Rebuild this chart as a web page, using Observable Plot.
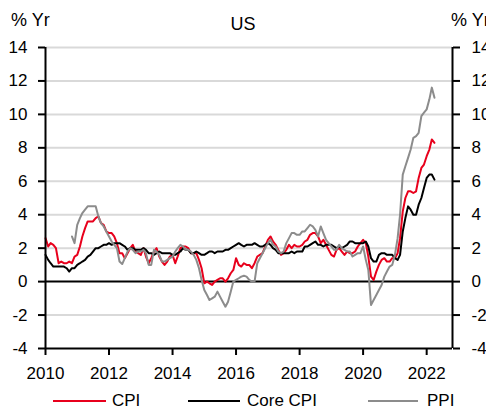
<!DOCTYPE html>
<html><head><meta charset="utf-8">
<script src="https://cdn.jsdelivr.net/npm/d3@7"></script>
<script src="https://cdn.jsdelivr.net/npm/@observablehq/plot@0.6"></script>
<style>
body{margin:0;background:#fff;}
#wrap{position:relative;width:486px;height:410px;overflow:hidden;font-family:"Liberation Sans",Arial,sans-serif;color:#000;background:#fff;}
.lab{position:absolute;font-size:17px;line-height:1;white-space:nowrap;}
.sw{position:absolute;height:0;border-top-style:solid;border-top-width:2px;}
</style></head><body>
<div id="wrap">
  <div id="chart" style="position:absolute;left:0;top:0"></div>
  <div class="lab" style="left:0;width:486px;text-align:center;top:15px;font-size:18px">US</div>
  <div class="lab" style="left:11px;top:11px;font-size:18px">% Yr</div>
  <div class="lab" style="left:451px;top:11px;font-size:18px">% Yr</div>
  <div id="legend"></div>
</div>
<script>
// ---- data (year-on-year %, monthly) ----
const startCPI = [2010, 0];   // Jan 2010
const startPPI = [2010, 10];  // Nov 2010
const cpi = [
 2.6,2.1,2.3,2.2,2.0,1.1,1.2,1.1,1.1,1.2,1.1,1.5,
 1.6,2.1,2.7,3.2,3.6,3.6,3.6,3.8,3.9,3.5,3.4,3.0,
 2.9,2.9,2.7,2.3,1.7,1.7,1.4,1.7,2.0,2.2,1.8,1.7,
 1.6,2.0,1.5,1.1,1.4,1.8,2.0,1.5,1.2,1.0,1.2,1.5,
 1.6,1.1,1.5,2.0,2.1,2.1,2.0,1.7,1.7,1.7,1.3,0.8,
 -0.1,0.0,-0.1,-0.2,0.0,0.1,0.2,0.2,0.0,0.2,0.5,0.7,
 1.4,1.0,0.9,1.1,1.0,1.0,0.8,1.1,1.5,1.6,1.7,2.1,
 2.5,2.7,2.4,2.2,1.9,1.6,1.7,1.9,2.2,2.0,2.2,2.1,
 2.1,2.2,2.4,2.5,2.8,2.9,2.9,2.7,2.3,2.5,2.2,1.9,
 1.6,1.5,1.9,2.0,1.8,1.6,1.8,1.7,1.7,1.8,2.1,2.3,
 2.5,2.3,1.5,0.3,0.1,0.6,1.0,1.3,1.4,1.2,1.2,1.4,
 1.4,1.7,2.6,4.2,5.0,5.4,5.4,5.3,5.4,6.2,6.8,7.0,
 7.5,7.9,8.5,8.3
];
const coreCpi = [
 1.6,1.3,1.1,0.9,0.9,0.9,0.9,0.9,0.8,0.6,0.8,0.8,
 1.0,1.1,1.2,1.3,1.5,1.6,1.8,2.0,2.0,2.1,2.2,2.2,
 2.3,2.2,2.3,2.3,2.3,2.2,2.1,1.9,2.0,2.0,1.9,1.9,
 1.9,2.0,1.9,1.7,1.7,1.6,1.7,1.8,1.7,1.7,1.7,1.7,
 1.6,1.6,1.7,1.8,2.0,1.9,1.9,1.7,1.7,1.8,1.7,1.6,
 1.6,1.7,1.8,1.8,1.7,1.8,1.8,1.8,1.9,1.9,2.0,2.1,
 2.2,2.3,2.2,2.1,2.2,2.2,2.2,2.3,2.2,2.1,2.1,2.2,
 2.3,2.2,2.0,1.9,1.7,1.7,1.7,1.7,1.7,1.8,1.7,1.8,
 1.8,1.8,2.1,2.1,2.2,2.3,2.4,2.2,2.2,2.1,2.2,2.2,
 2.2,2.1,2.0,2.1,2.0,2.1,2.2,2.4,2.4,2.3,2.3,2.3,
 2.3,2.4,2.1,1.4,1.2,1.2,1.6,1.7,1.7,1.6,1.6,1.6,
 1.4,1.3,1.6,3.0,3.8,4.5,4.3,4.0,4.0,4.6,5.0,5.6,
 6.2,6.4,6.4,6.1
];
const ppi = [
 2.7,2.3,
 3.4,3.8,4.1,4.3,4.5,4.5,4.5,4.5,3.9,3.5,3.3,3.0,
 2.7,2.4,2.2,2.0,1.2,1.05,1.4,1.8,2.0,1.9,1.7,1.8,
 1.8,1.9,1.7,1.0,1.0,1.9,1.8,1.6,1.2,1.2,1.3,1.4,
 1.5,1.8,2.0,2.2,2.1,1.9,1.9,1.8,1.6,1.3,0.8,0.1,
 -0.5,-0.8,-1.1,-1.0,-0.9,-0.6,-0.9,-1.2,-1.5,-1.2,-0.6,0.0,
 0.1,0.2,0.3,0.35,0.3,0.1,0.0,0.0,1.1,1.4,1.7,2.0,
 2.3,2.5,2.2,2.1,1.8,1.7,1.8,2.3,2.6,2.9,2.9,2.8,
 2.8,3.0,3.0,3.2,3.4,3.3,3.1,2.7,3.3,2.9,2.5,2.3,
 2.1,1.9,1.9,2.2,2.0,1.9,1.8,1.8,1.5,1.6,1.7,1.7,
 2.1,1.3,0.7,-1.4,-1.1,-0.8,-0.5,-0.2,0.3,0.6,0.9,1.0,
 1.6,2.6,4.0,6.4,6.9,7.4,7.9,8.6,8.7,8.9,9.9,10.1,
 10.3,10.9,11.6,11.0
];
const seriesNames = ["CPI", "Core CPI", "PPI"];
const seriesColors = ["#e8001c", "#000000", "#8c8c8c"];
const yTicks = [-4,-2,0,2,4,6,8,10,12,14];
const gridValues = [-2,2,4,6,8,10,12,14];
const xTickYears = [2010,2012,2014,2016,2018,2020,2022];
const yDomain = [-4, 14];
const xDomainStr = ["2010-01-01", "2022-10-25"];

// ---- build tables ----
function toRows(vals, start, name) {
  return vals.map((v, i) => ({date: new Date(Date.UTC(start[0], start[1] + i, 1)), value: v, series: name}));
}
const rows = [
  ...toRows(cpi, startCPI, seriesNames[0]),
  ...toRows(coreCpi, startCPI, seriesNames[1]),
  ...toRows(ppi, startPPI, seriesNames[2])
];
const xDomain = xDomainStr.map(s => new Date(s + "T00:00:00Z"));
const xTicks = xTickYears.map(y => new Date(Date.UTC(y, 0, 1)));
const font = '"Liberation Sans", Arial, sans-serif';
const yFmt = d => String(d);  // plain hyphen-minus as in the reference

const chart = Plot.plot({
  width: 486, height: 385,
  marginLeft: 45, marginRight: 34, marginTop: 47, marginBottom: 37,
  style: {fontFamily: font, fontSize: "17px", color: "#000", background: "transparent", overflow: "visible"},
  x: {type: "utc", domain: xDomain},
  y: {domain: yDomain},
  color: {domain: seriesNames, range: seriesColors},
  marks: [
    Plot.ruleY(gridValues, {stroke: "#d9d9d9", strokeWidth: 2}),
    Plot.ruleY([0], {stroke: "#000", strokeWidth: 2}),
    Plot.line(rows, {x: "date", y: "value", z: "series", stroke: "series", strokeWidth: 2}),
    Plot.ruleX([xDomain[0]], {stroke: "#000", strokeWidth: 2}),
    Plot.ruleX([xDomain[1]], {stroke: "#000", strokeWidth: 2}),
    Plot.ruleY([yDomain[0]], {stroke: "#000", strokeWidth: 2}),
    Plot.axisY(yTicks, {anchor: "left", tickSize: 7, tickPadding: 11, strokeWidth: 2, label: null, fontSize: 17, tickFormat: yFmt}),
    Plot.axisY(yTicks, {anchor: "right", tickSize: 7, tickPadding: 12, strokeWidth: 2, label: null, fontSize: 17, tickFormat: yFmt}),
    Plot.axisX(xTicks, {anchor: "bottom", tickSize: 7, tickPadding: 11, strokeWidth: 2, label: null,
      tickFormat: d => String(d.getUTCFullYear()), fontSize: 17})
  ]
});
document.getElementById("chart").appendChild(chart);

// ---- legend ----
const legendPos = [[53, 53, 112], [188, 52, 247], [368, 50, 427]];
const lg = document.getElementById("legend");
seriesNames.forEach((name, i) => {
  const [lx, lw, tx] = legendPos[i];
  const sw = document.createElement("div");
  sw.className = "sw";
  sw.style.cssText = `left:${lx}px;width:${lw}px;top:400px;border-top-color:${seriesColors[i]}`;
  lg.appendChild(sw);
  const t = document.createElement("div");
  t.className = "lab";
  t.style.cssText = `left:${tx}px;top:392px`;
  t.textContent = name;
  lg.appendChild(t);
});
</script>
</body></html>
